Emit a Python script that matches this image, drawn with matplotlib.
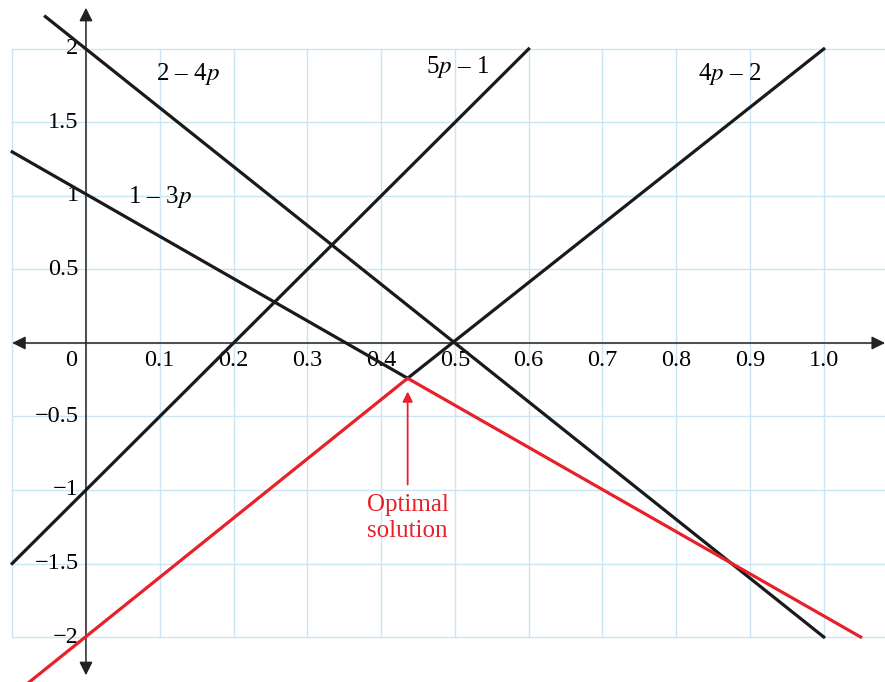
import numpy as np
import matplotlib.pyplot as plt

plt.rcParams['mathtext.fontset'] = 'stix'
plt.rcParams['font.family'] = 'Liberation Serif'

### valeurs

xticks = [0.1, 0.2, 0.3, 0.4, 0.5, 0.6, 0.7, 0.8, 0.9, 1.0]
yticks = [2, 1.5, 1, 0.5, -0.5, -1, -1.5, -2]
ytick_labels = ['2', '1.5', '1', '0.5', '\u22120.5', '\u22121', '\u22121.5', '\u22122']

# droites (extrémités)
p_2m4p = [-0.055, 1.0]
y_2m4p = [2.22, -2.0]
p_5pm1 = [-0.1, 0.6]
y_5pm1 = [-1.5, 2.0]
p_1m3p = [-0.1, 0.436]
y_1m3p = [1.3, -0.24]
p_4pm2 = [0.436, 1.0]
y_4pm2 = [-0.24, 2.0]

# enveloppe inférieure (rouge)
p_red = [-0.1, 0.436, 1.05]
y_red = [-2.4, -0.24, -2.0]

### tracé

fig = plt.figure(figsize=(8.85, 6.82), dpi=100)
ax = fig.add_axes([0, 0, 1, 1])
ax.set_xlim(-0.1165, 1.083)
ax.set_ylim(-2.306, 2.333)
ax.axis('off')

grid = '#c9e6f2'
for gx in np.arange(-0.1, 1.15, 0.1):
    ax.plot([gx, gx], [-2, 2], color=grid, lw=1, zorder=0)
for gy in np.arange(-2, 2.01, 0.5):
    ax.plot([-0.1, 1.1], [gy, gy], color=grid, lw=1, zorder=0)

# axes avec flèches
ax.annotate('', xy=(-0.1, 0), xytext=(1.083, 0),
            arrowprops=dict(arrowstyle='<|-|>', color='#222222', lw=1.1,
                            mutation_scale=20, shrinkA=0, shrinkB=0))
ax.annotate('', xy=(0, 2.28), xytext=(0, -2.26),
            arrowprops=dict(arrowstyle='<|-|>', color='#222222', lw=1.1,
                            mutation_scale=20, shrinkA=0, shrinkB=0))

fs = 17.5
for t in xticks:
    ax.text(t, -0.045, '%.1f' % t, ha='center', va='top', fontsize=fs)
ax.text(-0.012, -0.045, '0', ha='right', va='top', fontsize=fs)
for t, lab in zip(yticks, ytick_labels):
    ax.text(-0.01, t, lab, ha='right', va='center', fontsize=fs)

lw = 2.3
ax.plot(p_2m4p, y_2m4p, color='#1a1a1a', lw=lw, zorder=3)
ax.plot(p_5pm1, y_5pm1, color='#1a1a1a', lw=lw, zorder=3)
ax.plot(p_1m3p, y_1m3p, color='#1a1a1a', lw=lw, zorder=3)
ax.plot(p_4pm2, y_4pm2, color='#1a1a1a', lw=lw, zorder=3)
ax.plot(p_red, y_red, color='#e8202a', lw=lw, zorder=4)

lfs = 18
ax.text(0.138, 1.83, '2 \u2013 4$p$', fontsize=lfs, ha='center', va='center')
ax.text(0.503, 1.88, '5$p$ \u2013 1', fontsize=lfs, ha='center', va='center')
ax.text(0.873, 1.83, '4$p$ \u2013 2', fontsize=lfs, ha='center', va='center')
ax.text(0.1, 0.99, '1 \u2013 3$p$', fontsize=lfs, ha='center', va='center')

ax.annotate('Optimal\nsolution', xy=(0.436, -0.33), xytext=(0.436, -1.19),
            ha='center', va='center', color='#e8202a', fontsize=18,
            linespacing=1.2,
            arrowprops=dict(arrowstyle='-|>', color='#e8202a', lw=1.3,
                            mutation_scale=15, shrinkA=5, shrinkB=0))

plt.savefig('out.png')
